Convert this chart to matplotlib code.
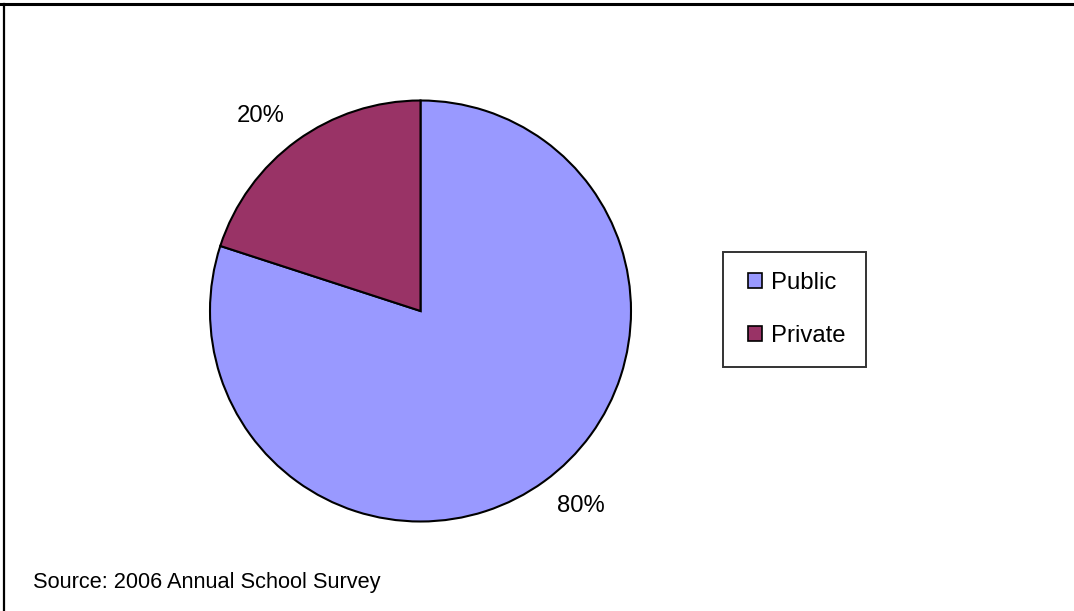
import matplotlib
matplotlib.use("Agg")
import numpy as np
import matplotlib.pyplot as plt
from matplotlib.patches import Patch, Rectangle
from matplotlib.lines import Line2D
from matplotlib.legend_handler import HandlerPatch

categories = ["Public", "Private"]
shares = [80, 20]
colors = ["#9999FF", "#993366"]
source_text = "Source: 2006 Annual School Survey"

plt.rcParams["font.family"] = ["Liberation Sans", "DejaVu Sans"]

W, H = 1074, 611
fig = plt.figure(figsize=(W / 100, H / 100), dpi=100)
fig.patch.set_facecolor("white")

cx, cy, r = 420.5, 311, 210.5
ax = fig.add_axes([(cx - r) / W, (H - cy - r) / H, 2 * r / W, 2 * r / H])
wedges, texts, autotexts = ax.pie(
    shares, colors=colors, startangle=90, counterclock=False,
    autopct="%1.0f%%", pctdistance=1.2,
    wedgeprops=dict(edgecolor="black", linewidth=1.5),
    textprops=dict(fontsize=17.2, color="black"),
)
# small counterclockwise offset of the percentage labels, as in the reference
rot = np.deg2rad(3.3)
for t in autotexts:
    x, y = t.get_position()
    t.set_position((x * np.cos(rot) - y * np.sin(rot), x * np.sin(rot) + y * np.cos(rot)))
ax.set_xlim(-1, 1)
ax.set_ylim(-1, 1)
ax.set_aspect("equal")
ax.axis("off")
for w in wedges:
    w.set_clip_on(False)


def square_right(legend, orig_handle, xdescent, ydescent, width, height, fontsize):
    s = height
    return Rectangle((width - s - xdescent, -ydescent), s, s)


handles = [Patch(facecolor=c, edgecolor="black", linewidth=1.2) for c in colors]
leg = fig.legend(handles, categories, loc="upper left",
                 bbox_to_anchor=(723 / W, 1 - 252 / H),
                 fontsize=17.2, frameon=True, fancybox=False,
                 edgecolor="black", handlelength=0.8, handleheight=0.58,
                 handletextpad=0.38, labelspacing=1.27, borderpad=0.85,
                 borderaxespad=0,
                 handler_map={Patch: HandlerPatch(patch_func=square_right)})
leg.get_frame().set_linewidth(1.4)

fig.text(33 / W, 1 - 588 / H, source_text, fontsize=15.7, va="baseline", ha="left")

fig.add_artist(Line2D([0, 1], [1 - 3.5 / H, 1 - 3.5 / H], color="black", linewidth=2.2,
                      transform=fig.transFigure))
fig.add_artist(Line2D([3.5 / W, 3.5 / W], [0, 1 - 3.5 / H], color="black", linewidth=1.6,
                      transform=fig.transFigure))

fig.savefig("out.png", dpi=100, facecolor="white")
